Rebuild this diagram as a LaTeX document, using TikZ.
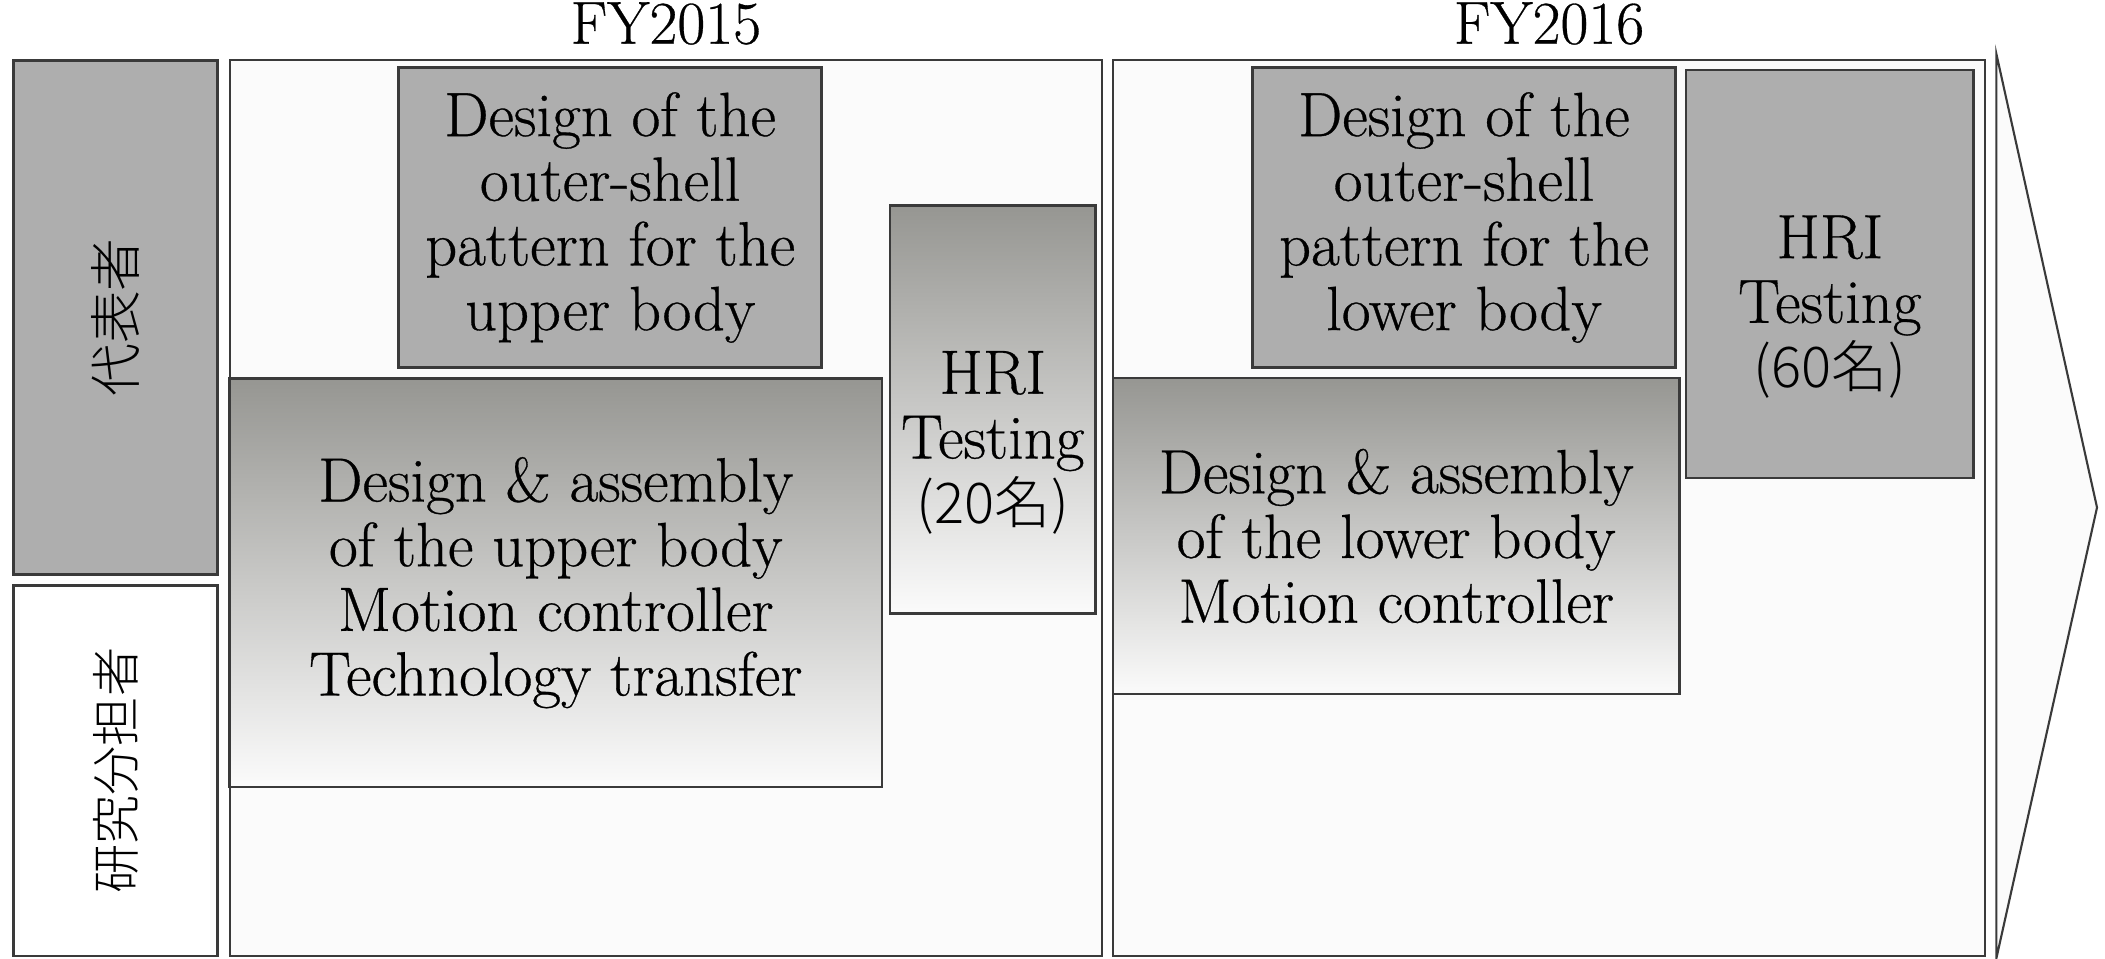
\documentclass[tikz,border=0pt]{standalone}
\usepackage{fontspec}
\setmainfont{Latin Modern Roman}[FakeBold=0.5]
\newfontfamily\cjk{Noto Sans CJK JP}[UprightFont=* Light]
\usepackage{tikz}
\usetikzlibrary{positioning}
\definecolor{boxgray}{RGB}{174,174,174}
\definecolor{shadegray}{RGB}{150,150,146}
\definecolor{panelfill}{RGB}{251,251,251}
\definecolor{edgegray}{RGB}{58,58,58}

\begin{document}
\begin{tikzpicture}[font=\fontsize{17.8}{18.4}\selectfont,
  panel/.style={draw=edgegray,line width=0.6pt,fill=panelfill,inner sep=0pt,minimum width=8.726cm,minimum height=8.955cm},
  solidbox/.style={draw=edgegray,line width=0.9pt,fill=boxgray,align=center,inner sep=0pt},
  shadebox/.style={draw=edgegray,line width=0.7pt,top color=shadegray,bottom color=panelfill,align=center,inner sep=0pt},
  rolebox/.style={draw=edgegray,line width=0.8pt,rotate=90,inner sep=0pt,minimum height=2.04cm},
  yearlbl/.style={inner sep=0pt,font=\fontsize{17.3}{18}\selectfont}]
\useasboundingbox (0,0) rectangle (21.05,-9.59);
% row labels
\node[rolebox,fill=boxgray,minimum width=5.14cm,font=\cjk\fontsize{15}{15}\selectfont] (lead) at (1.154,-3.175) {代表者};
\node[rolebox,fill=white,minimum width=3.706cm,font=\cjk\fontsize{14}{14}\selectfont] (coinv) at (1.154,-7.706) {研究分担者};
% year panels and arrow
\node[panel] (fy15) at (6.659,-5.082) {};
\node[panel] (fy16) at (15.49,-5.082) {};
\node[yearlbl,above=0.14cm of fy15] (fy15lbl) {FY2015};
\node[yearlbl,above=0.14cm of fy16] (fy16lbl) {FY2016};
\draw[edgegray,line width=0.6pt,fill=panelfill] (19.963,-0.537) -- (20.97,-5.075) -- (19.963,-9.585) -- cycle;
% FY2015 tasks
\node[solidbox,minimum width=4.229cm,minimum height=3.007cm] (shell15) at (6.102,-2.175)
  {Design of the\\outer-shell\\pattern for the\\upper body};
\node[shadebox,minimum width=6.524cm,minimum height=4.081cm] (asm15) at (5.558,-5.827)
  {Design \& assembly\\of the upper body\\Motion controller\\Technology transfer};
\node[shadebox,minimum width=2.054cm,minimum height=4.081cm] (hri15) at (9.928,-4.095) {};
\node[align=center,inner sep=0pt] (hri15txt) at ([yshift=-0.33cm]hri15.center)
  {HRI\\Testing\\{\cjk\fontsize{16}{18.4}\selectfont (20名)}};
% FY2016 tasks
\node[solidbox,minimum width=4.229cm,minimum height=3.007cm] (shell16) at (14.64,-2.175)
  {Design of the\\outer-shell\\pattern for the\\lower body};
\node[solidbox,line width=0.7pt,minimum width=2.873cm,minimum height=4.081cm] (hri16) at (18.298,-2.739) {};
\node[align=center,inner sep=0pt] (hri16txt) at ([yshift=-0.33cm]hri16.center)
  {HRI\\Testing\\{\cjk\fontsize{16}{18.4}\selectfont (60名)}};
\node[shadebox,minimum width=5.666cm,minimum height=3.162cm] (asm16) at (13.962,-5.36)
  {Design \& assembly\\of the lower body\\Motion controller};
\end{tikzpicture}
\end{document}
